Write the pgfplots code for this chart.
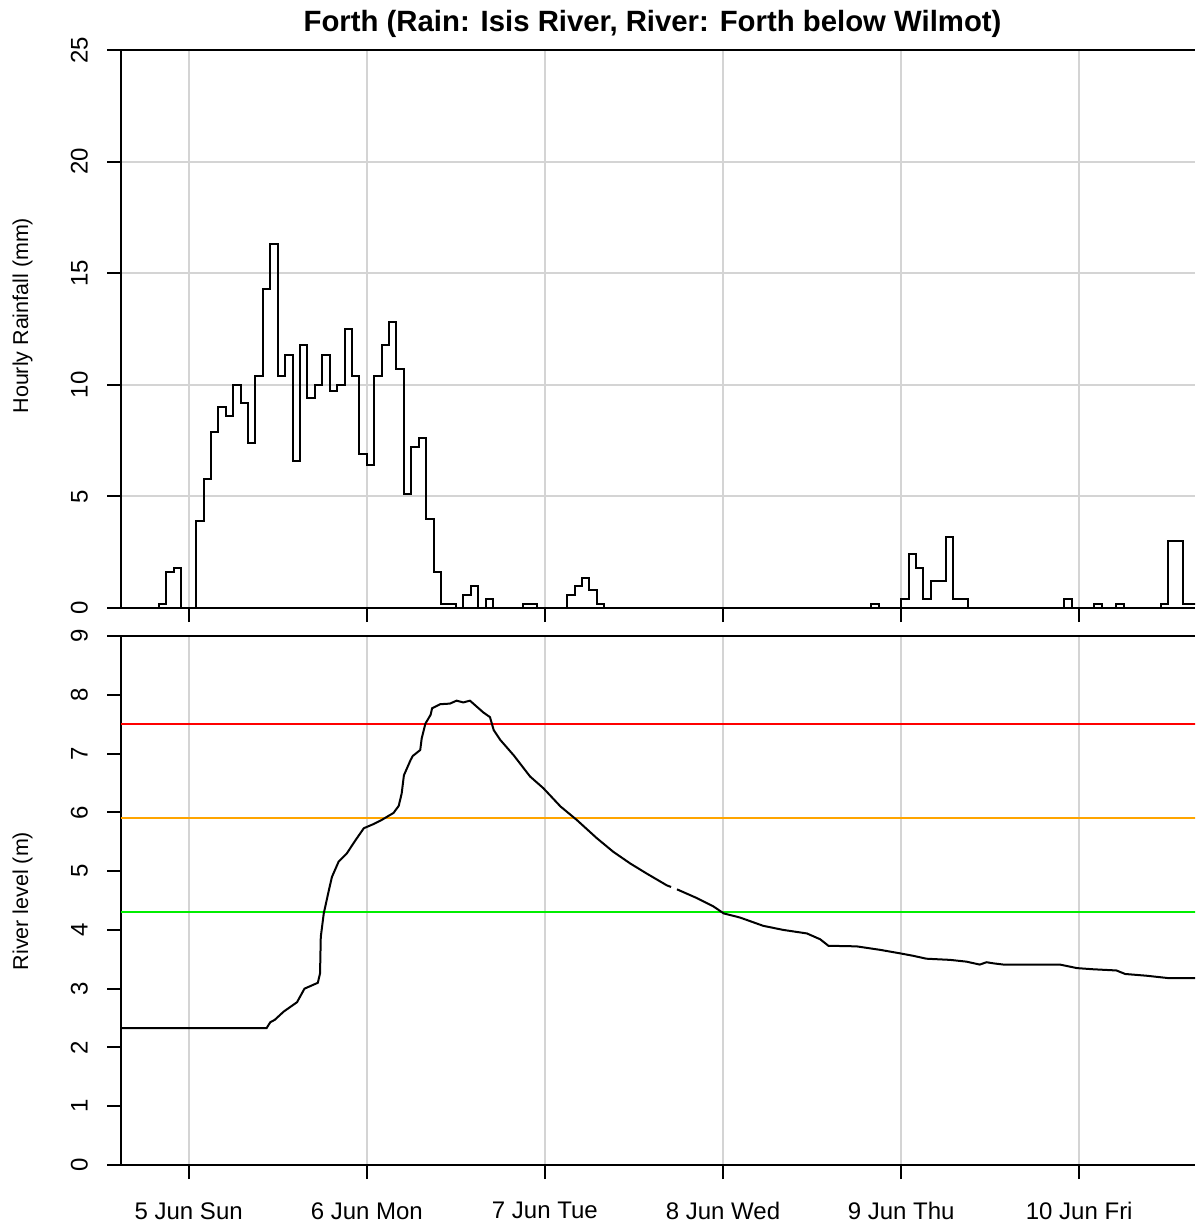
\documentclass[border=0pt]{standalone}
\usepackage{pgfplots}
\usepackage{pgfplotstable}
\pgfplotsset{compat=1.18}
\usepackage{fontspec}
\setmainfont{Liberation Sans}
\definecolor{warnorange}{RGB}{255,165,0}
\definecolor{warngreen}{RGB}{0,238,0}

% Hourly rainfall, hours from 5 Jun 00:00 (value held for the following hour)
\pgfplotstableread{
h mm
-10 0
-4 0.2
-3 1.6
-2 1.8
-1 0
1 3.9
2 5.8
3 7.9
4 9.0
5 8.6
6 10.0
7 9.2
8 7.4
9 10.4
10 14.3
11 16.3
12 10.4
13 11.35
14 6.6
15 11.8
16 9.4
17 10.0
18 11.35
19 9.7
20 10.0
21 12.5
22 10.4
23 6.9
24 6.4
25 10.4
26 11.8
27 12.8
28 10.7
29 5.1
30 7.2
31 7.6
32 4.0
33 1.6
34 0.2
36 0
37 0.6
38 1.0
39 0
40 0.4
41 0
45 0.2
47 0
51 0.6
52 1.0
53 1.35
54 0.8
55 0.2
56 0
92 0.2
93 0
96 0.4
97 2.4
98 1.8
99 0.4
100 1.2
102 3.2
103 0.4
105 0
118 0.4
119 0
122 0.2
123 0
125 0.2
126 0
131 0.2
132 3.0
134 0.2
137 0.2
}\rain

% River level at Forth below Wilmot (m); nan marks missing readings
\pgfplotstableread{
h lvl
-10 2.33
10.5 2.33
11.0 2.43
11.6 2.47
12.8 2.61
14.6 2.77
15.6 3.00
17.4 3.10
17.7 3.26
17.8 3.88
18.2 4.28
18.9 4.68
19.3 4.90
20.2 5.16
21.3 5.30
22.5 5.53
23.6 5.73
24.9 5.80
26.0 5.87
27.6 5.99
28.3 6.11
28.7 6.32
29.0 6.63
29.9 6.89
30.2 6.96
31.2 7.06
31.4 7.26
31.9 7.51
32.6 7.66
32.8 7.77
33.9 7.84
35.2 7.85
36.1 7.90
37.0 7.87
37.9 7.90
38.8 7.80
39.7 7.70
40.6 7.62
41.1 7.40
42.0 7.23
43.8 6.97
46.0 6.61
47.8 6.41
50.1 6.10
52.3 5.87
55.0 5.56
57.2 5.33
59.5 5.13
61.7 4.96
64.4 4.76
65.0 4.73
65.4 nan
65.8 4.69
68.5 4.54
70.7 4.40
72.1 4.28
74.3 4.21
77.4 4.07
80.1 4.00
83.3 3.94
85.1 3.84
86.2 3.73
90.0 3.72
93.2 3.66
95.9 3.60
97.6 3.56
99.4 3.51
102.6 3.49
104.8 3.46
106.6 3.41
107.5 3.45
108.5 3.43
109.8 3.41
117.4 3.41
119.7 3.35
121.9 3.33
125.0 3.31
126.2 3.25
129.1 3.22
132.0 3.18
137 3.18
}\river

\begin{document}
\begin{tikzpicture}
\useasboundingbox (0,0) rectangle (896.25pt,-919.5pt);
\pgfplotsset{
  every axis/.append style={
    scale only axis,
    width=805.5pt,
    xmin=-9.12, xmax=135.6,
    xtick={0,24,48,72,96,120},
    axis x line=box, axis y line=left,
    every outer y axis line/.append style={-},
    every inner y axis line/.append style={-},
    xtick pos=bottom, ytick pos=left,
    tick align=outside,
    major tick length=10.5pt,
    tick style={black, line width=1.5pt},
    axis line style={black, line width=1.5pt},
    grid style={black!17, line width=1.5pt},
    xmajorgrids,
    /pgf/number format/assume math mode=true,
    ticklabel style={font=\fontsize{18}{21}\selectfont},
    label style={font=\fontsize{16.1}{19}\selectfont},
    % rotated labels: yshift moves them away from the axis
    yticklabel style={rotate=90, anchor=south, inner sep=0pt, yshift=14.25pt},
    xticklabel style={anchor=north, inner sep=0pt, yshift=-17.25pt},
  }
}
% rainfall panel
\begin{axis}[
  at={(90.75pt,-456pt)}, anchor=south west,
  height=418.5pt,
  ymin=0, ymax=25, ytick={0,5,...,25},
  ymajorgrids,
  xticklabels={},
  ylabel={Hourly Rainfall (mm)},
  ylabel style={at={(axis description cs:-0.0917,0.524)}, anchor=center, rotate=0},
  title={Forth (Rain: Isis River, River: Forth below Wilmot)},
  title style={at={(axis description cs:0.4949,1.0323)}, anchor=center,
    font=\bfseries\fontsize{22}{26}\selectfont},
]
\addplot[const plot, black, line width=1.5pt] table[x=h, y=mm] {\rain};
\end{axis}
% river level panel with warning levels
\begin{axis}[
  at={(90.75pt,-873.75pt)}, anchor=south west,
  height=396.75pt,
  ymin=0, ymax=9, ytick={0,...,9},
  xticklabels={5 Jun Sun, 6 Jun Mon, 7 Jun Tue, 8 Jun Wed, 9 Jun Thu, 10 Jun Fri},
  ylabel={River level (m)},
  ylabel style={at={(axis description cs:-0.0917,0.499)}, anchor=center, rotate=0},
  unbounded coords=jump,
]
\addplot[red, line width=1.5pt] coordinates {(-10,7.5) (140,7.5)};
\addplot[warnorange, line width=1.5pt] coordinates {(-10,5.9) (140,5.9)};
\addplot[warngreen, line width=1.5pt] coordinates {(-10,4.3) (140,4.3)};
\addplot[black, line width=1.5pt] table[x=h, y=lvl] {\river};
\end{axis}
\end{tikzpicture}
\end{document}
